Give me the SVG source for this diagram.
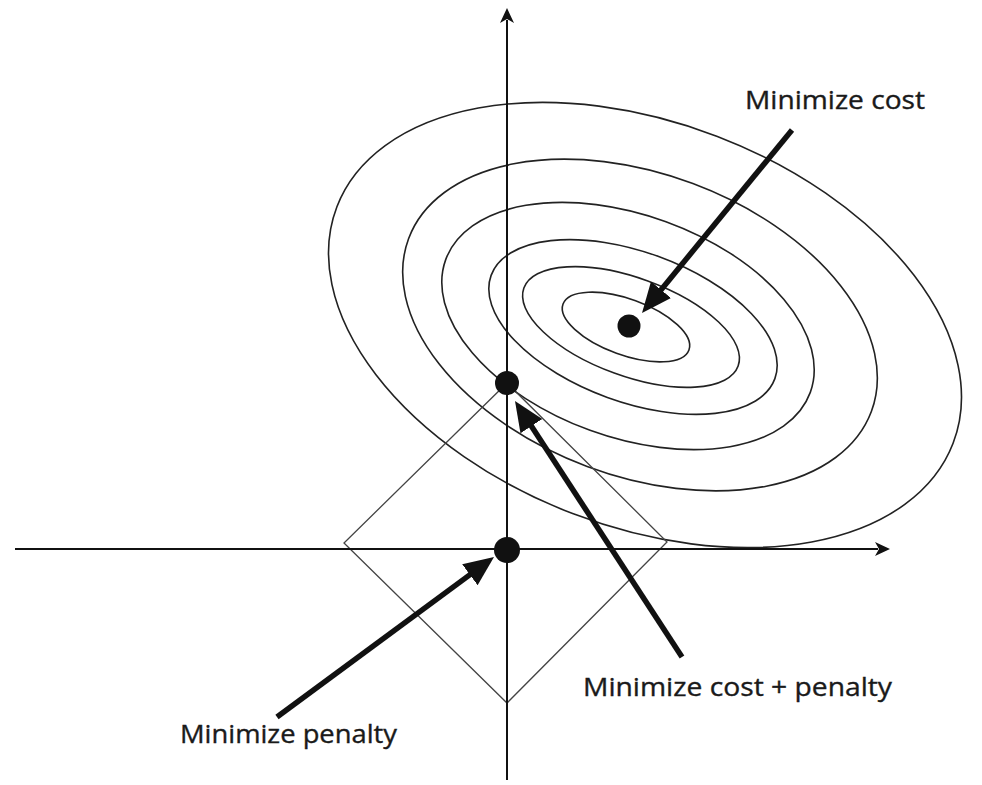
<svg xmlns="http://www.w3.org/2000/svg" width="982" height="785" viewBox="0 0 982 785">
<style>
.ell{fill:none;stroke:#222;stroke-width:1.6}
.dia{fill:none;stroke:#444;stroke-width:1.3}
.axis{stroke:#111;stroke-width:2;fill:none}
.arr{stroke:#111;stroke-width:5.5;fill:none}
.dot{fill:#111}
.lbl{font-family:"Open Sans","Liberation Sans",sans-serif;font-size:25px;fill:#1a1a1a;stroke:#1a1a1a;stroke-width:0.35}
</style>
<defs>
<marker id="big" markerUnits="userSpaceOnUse" markerWidth="32" markerHeight="28" refX="4" refY="13" orient="auto">
<path d="M0,0 L30,13 L0,26 z" fill="#111"/>
</marker>
<marker id="ax" markerUnits="userSpaceOnUse" markerWidth="16" markerHeight="14" refX="3" refY="7" orient="auto">
<path d="M0,0 L15,7 L0,14 L4,7 z" fill="#111"/>
</marker>
</defs>
<rect width="982" height="785" fill="#fff"/>
<g id="contours">
<ellipse class="ell" cx="626" cy="327" rx="67" ry="28" transform="rotate(20 626 327)"/>
<ellipse class="ell" cx="631" cy="327" rx="114" ry="49" transform="rotate(20 631 327)"/>
<ellipse class="ell" cx="633" cy="327" rx="151" ry="75" transform="rotate(20 633 327)"/>
<ellipse class="ell" cx="628" cy="326" rx="194" ry="111" transform="rotate(20 628 326)"/>
<ellipse class="ell" cx="640" cy="325" rx="247" ry="151" transform="rotate(20.5 640 325)"/>
<ellipse class="ell" cx="645" cy="325" rx="330" ry="202" transform="rotate(21 645 325)"/>
</g>
<g id="penalty-region">
<polygon class="dia" points="507,383 667,542 507,703 344,543"/>
</g>
<g id="axes">
<line class="axis" x1="507" y1="780" x2="507" y2="20" marker-end="url(#ax)"/>
<line class="axis" x1="15" y1="549" x2="878" y2="549" marker-end="url(#ax)"/>
</g>
<g id="min-cost-point"><circle class="dot" cx="629" cy="326" r="11.5"/></g>
<g id="min-both-point"><circle class="dot" cx="507" cy="383" r="12"/></g>
<g id="min-penalty-point"><circle class="dot" cx="507" cy="550" r="13"/></g>
<g id="connectors">
<line class="arr" x1="792" y1="130" x2="658.5" y2="292.9" marker-end="url(#big)"/>
<line class="arr" x1="682" y1="657" x2="529.2" y2="422.8" marker-end="url(#big)"/>
<line class="arr" x1="277" y1="717" x2="473.1" y2="572.4" marker-end="url(#big)"/>
</g>
<g id="label-cost"><text class="lbl" x="745" y="109" textLength="180" lengthAdjust="spacingAndGlyphs">Minimize cost</text></g>
<g id="label-both"><text class="lbl" x="583" y="696" textLength="309" lengthAdjust="spacingAndGlyphs">Minimize cost + penalty</text></g>
<g id="label-penalty"><text class="lbl" x="180" y="743" textLength="217" lengthAdjust="spacingAndGlyphs">Minimize penalty</text></g>
</svg>
